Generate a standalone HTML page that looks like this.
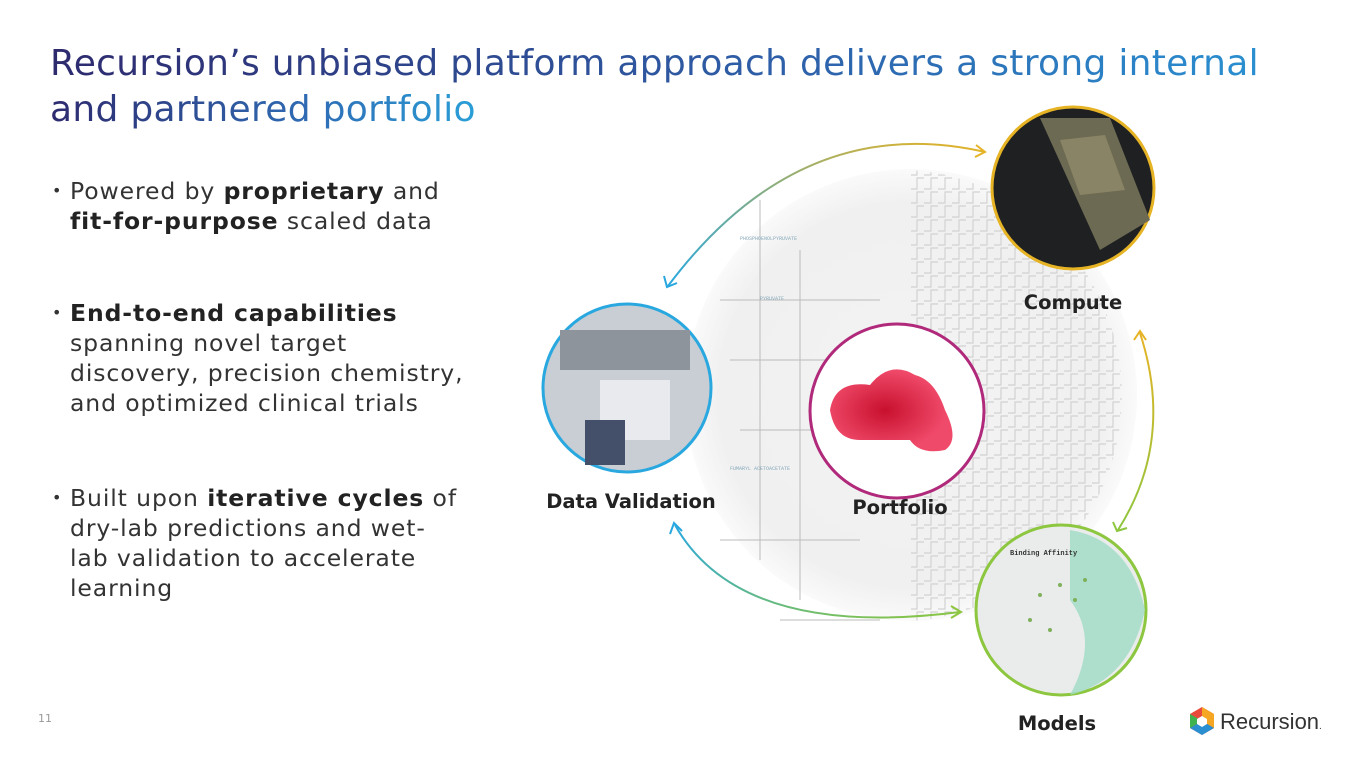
<!DOCTYPE html>
<html><head><meta charset="utf-8"><style>
body{margin:0;width:1365px;height:768px;overflow:hidden;background:#fff;font-family:"DejaVu Sans","Liberation Sans",sans-serif;position:relative}
.t{position:absolute;left:50px;font-size:36px;line-height:46px;white-space:nowrap;-webkit-background-clip:text;background-clip:text;color:transparent;letter-spacing:0.3px}
.b{position:absolute;left:52px;font-size:23.5px;line-height:30px;color:#333;width:470px;letter-spacing:0.9px}
.b span.d{position:absolute;left:0;font-size:16px}
.b div{padding-left:18px}
b{color:#222}
.lbl{position:absolute;font-weight:bold;font-size:19.5px;color:#222;white-space:nowrap;transform:translateX(-50%)}
</style></head><body>
<div class="t" style="top:41px;background-image:linear-gradient(90deg,#2e2a6e,#2e5fa8 60%,#2a8fd0)">Recursion’s unbiased platform approach delivers a strong internal</div>
<div class="t" style="top:87px;background-image:linear-gradient(90deg,#2e2a6e,#2f6db5 60%,#2aa3da);width:440px">and partnered portfolio</div>

<div class="b" style="top:176px"><span class="d">•</span><div>Powered by <b>proprietary</b> and<br><b>fit-for-purpose</b> scaled data</div></div>
<div class="b" style="top:298px"><span class="d">•</span><div><b>End-to-end capabilities</b><br>spanning novel target<br>discovery, precision chemistry,<br>and optimized clinical trials</div></div>
<div class="b" style="top:483px"><span class="d">•</span><div>Built upon <b>iterative cycles</b> of<br>dry-lab predictions and wet-<br>lab validation to accelerate<br>learning</div></div>

<div style="position:absolute;left:38px;top:712px;font-size:11px;color:#999">11</div>

<svg width="1365" height="768" style="position:absolute;left:0;top:0">
<defs>
<linearGradient id="g1" x1="0" y1="1" x2="1" y2="0"><stop offset="0" stop-color="#29a8e0"/><stop offset="1" stop-color="#e6b325"/></linearGradient>
<linearGradient id="g2" x1="0" y1="0" x2="0" y2="1"><stop offset="0" stop-color="#e6b325"/><stop offset="1" stop-color="#8dc63f"/></linearGradient>
<linearGradient id="g3" x1="0" y1="0" x2="1" y2="1"><stop offset="0" stop-color="#29a8e0"/><stop offset="1" stop-color="#8dc63f"/></linearGradient>
<radialGradient id="bg"><stop offset="0" stop-color="#f3f3f3"/><stop offset="0.85" stop-color="#f0f0f0"/><stop offset="1" stop-color="#fafafa"/></radialGradient>
<pattern id="pc" width="14" height="14" patternUnits="userSpaceOnUse"><path d="M0 7H7V0M7 14V10H14" stroke="#c9c9c9" stroke-width="1.2" fill="none"/></pattern>
<radialGradient id="mol" cx="0.45" cy="0.5"><stop offset="0" stop-color="#c8102e"/><stop offset="1" stop-color="#f04a6a"/></radialGradient>
</defs>
<circle cx="911" cy="395" r="226" fill="url(#bg)"/>
<path d="M911 170 A226 226 0 0 1 911 621 Z" fill="url(#pc)" opacity="0.8"/>
<g stroke="#bbb" stroke-width="1" fill="none">
<path d="M760 200V560M720 300H880M730 360H880M740 430H860M720 540H860M800 250V600M780 620H880"/>
</g>
<g font-size="5" font-family="Liberation Mono" fill="#8ab">
<text x="740" y="240">PHOSPHOENOLPYRUVATE</text><text x="760" y="300">PYRUVATE</text><text x="730" y="470">FUMARYL ACETOACETATE</text>
</g>
<path d="M668 286 Q800 110 985 152" fill="none" stroke="url(#g1)" stroke-width="2"/>
<path d="M976 145 L985 152 L975 157" fill="none" stroke="#e6b325" stroke-width="2"/>
<path d="M664 276 L667 287 L677 283" fill="none" stroke="#29a8e0" stroke-width="2"/>
<path d="M1140 333 Q1175 440 1118 530" fill="none" stroke="url(#g2)" stroke-width="2"/>
<path d="M1134 340 L1140 331 L1146 340" fill="none" stroke="#e6b325" stroke-width="2"/>
<path d="M1113 522 L1117 531 L1127 528" fill="none" stroke="#8dc63f" stroke-width="2"/>
<path d="M675 525 Q740 640 960 612" fill="none" stroke="url(#g3)" stroke-width="2"/>
<path d="M670 534 L674 523 L682 531" fill="none" stroke="#29a8e0" stroke-width="2"/>
<path d="M951 606 L961 612 L951 618" fill="none" stroke="#8dc63f" stroke-width="2"/>

<circle cx="1073" cy="188" r="81" fill="#1e2022" stroke="#e6b325" stroke-width="3"/>
<path d="M1040 118 L1110 118 L1150 220 L1100 250 Z" fill="#6c6a52"/>
<path d="M1060 140 L1105 135 L1125 190 L1080 195 Z" fill="#8a8466"/>
<circle cx="627" cy="388" r="84" fill="#c9ced4" stroke="#29a8e0" stroke-width="3"/>
<rect x="560" y="330" width="130" height="40" fill="#8d949c"/>
<rect x="600" y="380" width="70" height="60" fill="#e8eaed"/>
<rect x="585" y="420" width="40" height="45" fill="#44506a"/>
<circle cx="897" cy="411" r="87" fill="#fff" stroke="#b0297a" stroke-width="3"/>
<path d="M830 410 Q835 380 870 385 Q890 360 915 375 Q935 380 945 410 Q960 440 945 450 Q920 455 910 440 Q880 440 860 440 Q835 440 830 410 Z" fill="url(#mol)"/>
<circle cx="1061" cy="610" r="85" fill="#e9eceb" stroke="#8dc63f" stroke-width="3"/>
<path d="M1070 530 Q1130 540 1145 610 Q1130 680 1070 695 Q1100 640 1070 600 Z" fill="#9fdcc4" opacity="0.8"/>
<text x="1010" y="555" font-size="7" font-family="Liberation Mono" font-weight="bold" fill="#333">Binding Affinity</text>
<g fill="#7fb05a"><circle cx="1040" cy="595" r="2"/><circle cx="1060" cy="585" r="2"/><circle cx="1075" cy="600" r="2"/><circle cx="1030" cy="620" r="2"/><circle cx="1050" cy="630" r="2"/><circle cx="1085" cy="580" r="2"/></g>

<g transform="translate(1202,721)">
<polygon points="0,-14 12,-7 12,7 0,14 -12,7 -12,-7" fill="#e84a3c"/>
<polygon points="0,-14 12,-7 12,7 0,0" fill="#f5a623"/>
<polygon points="0,0 12,7 0,14 -12,7" fill="#2a8fd0"/>
<polygon points="-12,-7 0,0 -12,7" fill="#3fb34f"/>
<polygon points="0,-5 5,-2 5,3 0,6 -5,3 -5,-2" fill="#fff"/>
</g>
<text x="1220" y="729" font-size="22" font-family="Liberation Sans" fill="#333">Recursion<tspan font-size="10">.</tspan></text>
</svg>
<div class="lbl" style="left:1073px;top:291px">Compute</div>
<div class="lbl" style="left:631px;top:490px">Data Validation</div>
<div class="lbl" style="left:900px;top:496px">Portfolio</div>
<div class="lbl" style="left:1057px;top:712px">Models</div>
</body></html>
